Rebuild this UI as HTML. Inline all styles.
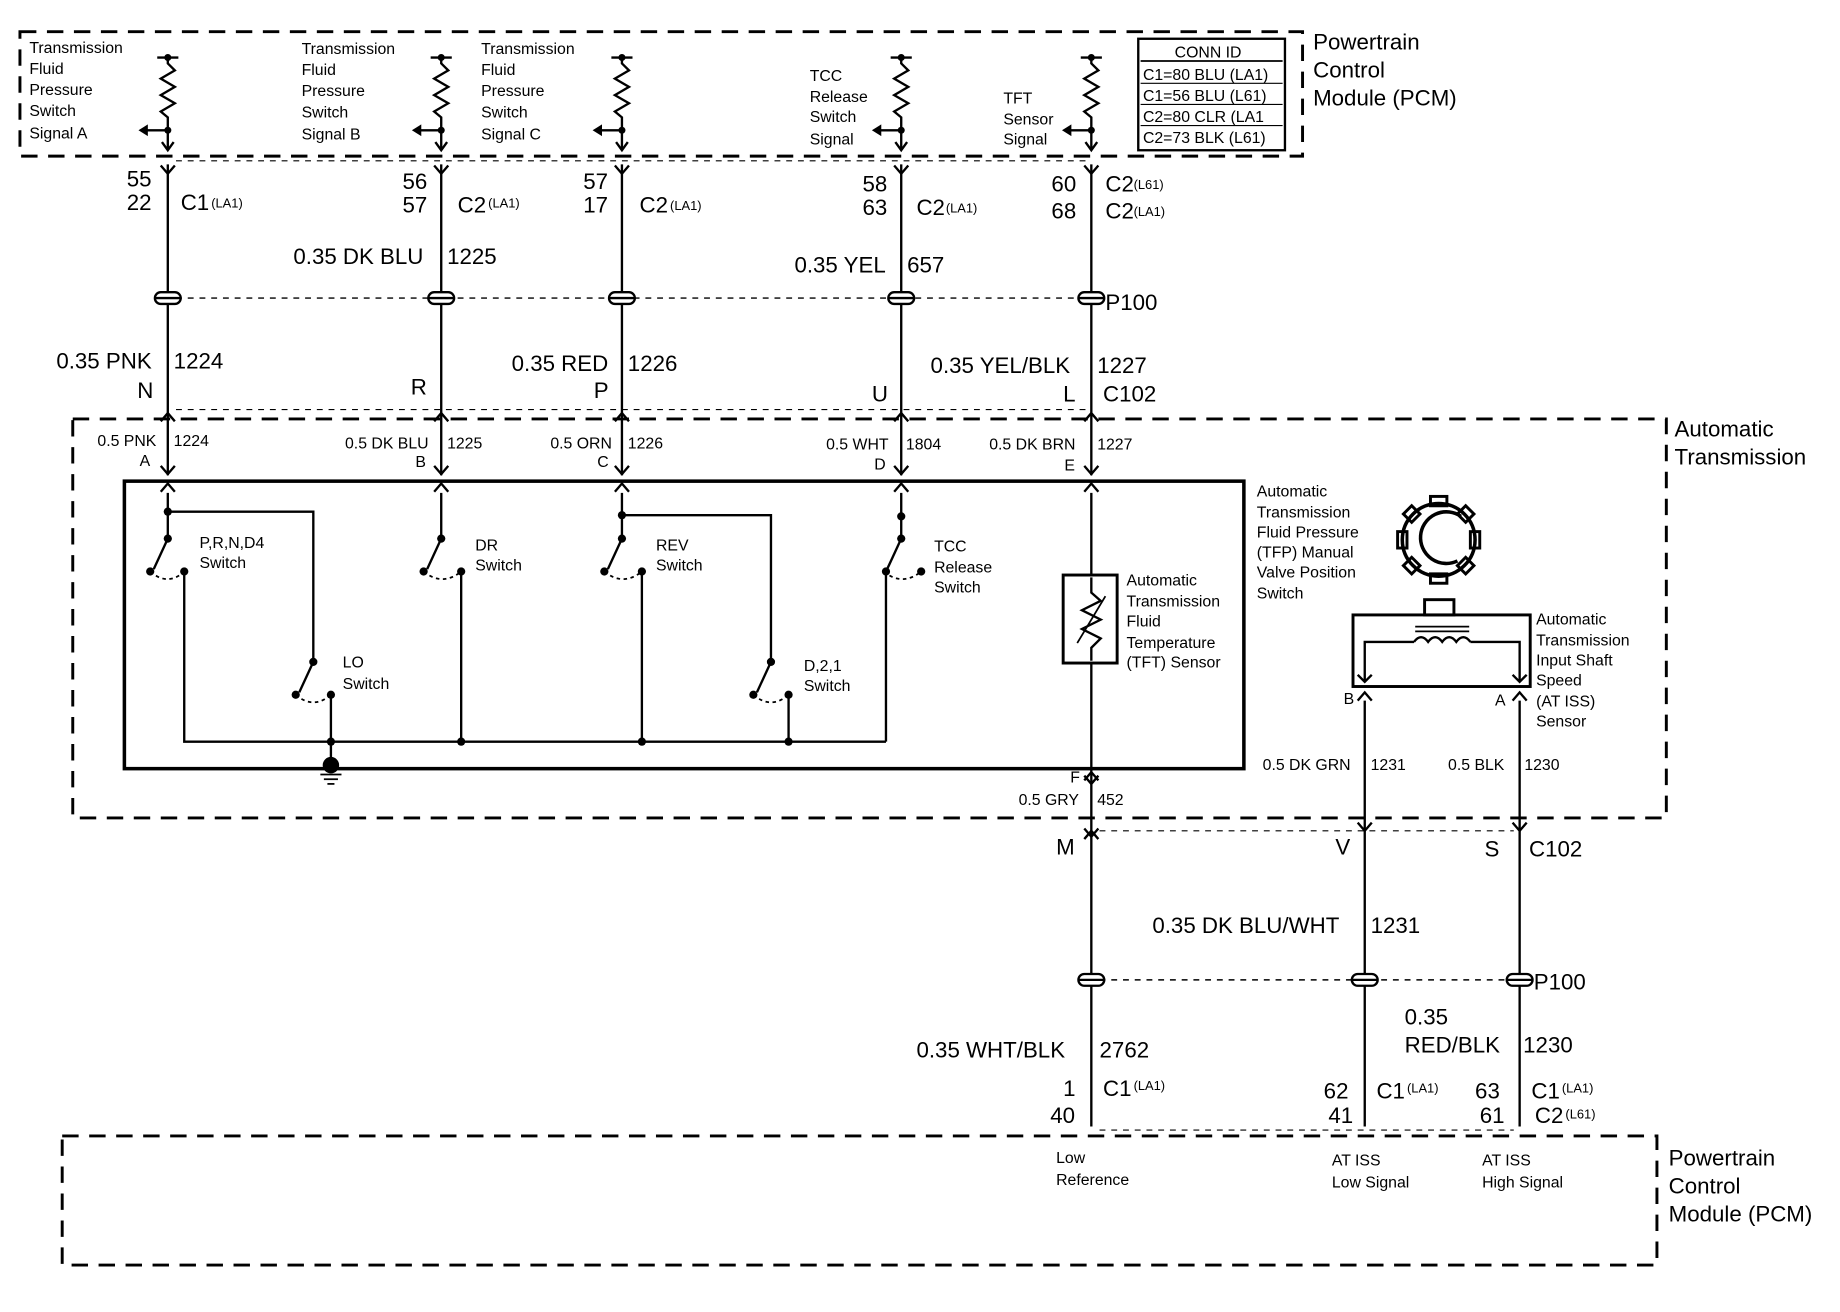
<!DOCTYPE html>
<html><head><meta charset="utf-8"><style>
html,body{margin:0;padding:0;background:#fff}
svg{display:block}
text{font-family:"Liberation Sans",Arial,sans-serif;fill:#000}
.s{font-size:13.5px}
.m{font-size:15px}
.l{font-size:19px}
.x{font-size:11px}
</style></head><body>
<svg width="1840" height="1312" viewBox="0 0 1568 1118" xmlns="http://www.w3.org/2000/svg">
<defs>
<g id="res">
 <line x1="-9" y1="49" x2="9" y2="49" stroke="#000" stroke-width="2"/>
 <circle cx="0" cy="49" r="3"/>
 <polyline points="0,49 0,54 6,60 -6,67 6,74 -6,81 6,88 -6,95 0,100 0,128" fill="none" stroke="#000" stroke-width="2"/>
 <circle cx="0" cy="111" r="3"/>
 <line x1="0" y1="111" x2="-20" y2="111" stroke="#000" stroke-width="2"/>
 <polygon points="-25,111 -17,106 -17,116"/>
 <polyline points="-5,121 0,128 5,121" fill="none" stroke="#000" stroke-width="2"/>
</g>
<g id="yc"><polyline points="-6,-7 0,0 6,-7" fill="none" stroke="#000" stroke-width="2"/></g>
<g id="ac"><polyline points="-6,7 0,0 6,7" fill="none" stroke="#000" stroke-width="2"/></g>
<g id="p1"><rect x="-11" y="-5" width="22" height="10" rx="5" fill="#fff" stroke="#000" stroke-width="2"/><line x1="-11" y1="0" x2="11" y2="0" stroke="#000" stroke-width="2"/></g>
</defs>
<g stroke="#000" fill="none">
<rect x="17" y="27" width="1093" height="106" stroke-width="2.5" stroke-dasharray="14,9"/>
<rect x="970" y="33" width="125" height="95" stroke-width="2"/>
<line x1="972" y1="52" x2="1093" y2="52" stroke-width="1.5"/>
<line x1="972" y1="71" x2="1093" y2="71" stroke-width="1"/>
<line x1="972" y1="89" x2="1093" y2="89" stroke-width="1"/>
<line x1="972" y1="107" x2="1093" y2="107" stroke-width="1"/>
<g stroke-width="2">
<line x1="143" y1="140" x2="143" y2="405"/>
<line x1="376" y1="140" x2="376" y2="405"/>
<line x1="530" y1="140" x2="530" y2="405"/>
<line x1="768" y1="140" x2="768" y2="405"/>
<line x1="930" y1="140" x2="930" y2="405"/>
</g>
<line x1="150" y1="137" x2="925" y2="137" stroke-width="1" stroke-dasharray="5,5"/>
<line x1="150" y1="254" x2="920" y2="254" stroke-width="1.2" stroke-dasharray="5,5"/>
<line x1="150" y1="349" x2="925" y2="349" stroke-width="1" stroke-dasharray="5,5"/>
<rect x="62" y="357" width="1358" height="340" stroke-width="2.5" stroke-dasharray="14,9"/>
<rect x="106" y="410" width="954" height="245" stroke-width="3"/>
<g stroke-width="2">
<polyline points="143,436 267,436 267,564"/>
<line x1="143" y1="420" x2="143" y2="459"/>
<line x1="143" y1="459" x2="131" y2="485"/>
<polyline points="157,487 157,632 755,632"/>
<line x1="267" y1="564" x2="255" y2="590"/>
<line x1="282" y1="592" x2="282" y2="650"/>
<line x1="376" y1="420" x2="376" y2="459"/><line x1="376" y1="459" x2="364" y2="485"/>
<line x1="393" y1="487" x2="393" y2="632"/>
<line x1="530" y1="420" x2="530" y2="459"/><line x1="530" y1="459" x2="518" y2="485"/>
<polyline points="530,439 657,439 657,564"/>
<line x1="657" y1="564" x2="645" y2="590"/>
<line x1="672" y1="592" x2="672" y2="632"/>
<line x1="547" y1="487" x2="547" y2="632"/>
<line x1="768" y1="420" x2="768" y2="459"/><line x1="768" y1="459" x2="756" y2="485"/>
<line x1="755" y1="632" x2="755" y2="487"/>
<line x1="930" y1="420" x2="930" y2="490"/>
<line x1="930" y1="565" x2="930" y2="960"/>
</g>
<g stroke-width="1.5" stroke-dasharray="3,3">
<path d="M128,487 Q143,500 157,487"/><path d="M361,487 Q377,500 393,487"/><path d="M515,487 Q531,500 547,487"/><path d="M753,487 Q769,500 785,487"/>
<path d="M252,592 Q267,605 282,592"/><path d="M642,592 Q657,605 672,592"/>
</g>
<rect x="906" y="490" width="46" height="75" stroke-width="2.5"/>
<polyline points="930,492 930,505 938,512 922,520 938,528 922,536 938,544 930,552 930,563" stroke-width="2"/>
<line x1="918" y1="548" x2="942" y2="508" stroke-width="1.5"/>
<rect x="1153" y="524" width="151" height="61" stroke-width="2.5"/>
<rect x="1214" y="511" width="25" height="13" stroke-width="2.5"/>
<polyline points="1163,580 1163,547 1205,547" stroke-width="2"/>
<path d="M1205,547 q6,-8 12,0 q6,-8 12,0 q6,-8 12,0 q6,-8 12,0" stroke-width="2"/>
<polyline points="1253,547 1295,547 1295,580" stroke-width="2"/>
<line x1="1206" y1="538" x2="1252" y2="538" stroke-width="1.5"/><line x1="1206" y1="534" x2="1252" y2="534" stroke-width="1.5"/>
<circle cx="1226" cy="460" r="31" stroke-width="3"/>
<path d="M1245,440 A22,22 0 1 0 1242,478" stroke-width="3"/>
<g stroke-width="2.5">
<rect x="1219" y="423" width="14" height="8"/><rect x="1219" y="489" width="14" height="8"/>
<rect x="1191" y="453" width="8" height="14"/><rect x="1253" y="453" width="8" height="14"/>
<rect x="1198" y="433" width="10" height="10" transform="rotate(45 1203 438)"/>
<rect x="1244" y="433" width="10" height="10" transform="rotate(45 1249 438)"/>
<rect x="1198" y="477" width="10" height="10" transform="rotate(45 1203 482)"/>
<rect x="1244" y="477" width="10" height="10" transform="rotate(45 1249 482)"/>
</g>
<g stroke-width="2">
<line x1="1163" y1="597" x2="1163" y2="960"/>
<line x1="1295" y1="597" x2="1295" y2="960"/>
</g>
<line x1="937" y1="708" x2="1290" y2="708" stroke-width="1" stroke-dasharray="5,5"/>
<line x1="937" y1="835" x2="1285" y2="835" stroke-width="1.2" stroke-dasharray="5,5"/>
<line x1="937" y1="963" x2="1290" y2="963" stroke-width="1" stroke-dasharray="5,5"/>
<rect x="53" y="968" width="1359" height="110" stroke-width="2.5" stroke-dasharray="14,9"/>
</g>
<circle cx="282" cy="652" r="7"/>
<g stroke="#000" stroke-width="1.5"><line x1="273" y1="660" x2="291" y2="660"/><line x1="276" y1="664" x2="288" y2="664"/><line x1="279" y1="668" x2="285" y2="668"/></g>
<g>
<circle cx="143" cy="436" r="3.5"/><circle cx="143" cy="459" r="3.5"/><circle cx="128" cy="487" r="3.5"/><circle cx="157" cy="487" r="3.5"/>
<circle cx="267" cy="564" r="3.5"/><circle cx="252" cy="592" r="3.5"/><circle cx="282" cy="592" r="3.5"/><circle cx="282" cy="632" r="3.5"/>
<circle cx="376" cy="459" r="3.5"/><circle cx="361" cy="487" r="3.5"/><circle cx="393" cy="487" r="3.5"/><circle cx="393" cy="632" r="3.5"/>
<circle cx="530" cy="439" r="3.5"/><circle cx="530" cy="459" r="3.5"/><circle cx="515" cy="487" r="3.5"/><circle cx="547" cy="487" r="3.5"/><circle cx="547" cy="632" r="3.5"/>
<circle cx="657" cy="564" r="3.5"/><circle cx="642" cy="592" r="3.5"/><circle cx="672" cy="592" r="3.5"/><circle cx="672" cy="632" r="3.5"/>
<circle cx="768" cy="440" r="3.5"/><circle cx="768" cy="459" r="3.5"/><circle cx="785" cy="487" r="3.5"/><circle cx="755" cy="487" r="3.5"/>
</g>
<use href="#res" x="143"/><use href="#res" x="376"/><use href="#res" x="530"/><use href="#res" x="768"/><use href="#res" x="930"/>
<use href="#yc" x="143" y="148"/><use href="#yc" x="376" y="148"/><use href="#yc" x="530" y="148"/><use href="#yc" x="768" y="148"/><use href="#yc" x="930" y="148"/>
<use href="#p1" x="143" y="254"/><use href="#p1" x="376" y="254"/><use href="#p1" x="530" y="254"/><use href="#p1" x="768" y="254"/><use href="#p1" x="930" y="254"/>
<use href="#ac" x="143" y="352"/><use href="#ac" x="376" y="352"/><use href="#ac" x="530" y="352"/><use href="#ac" x="768" y="352"/><use href="#ac" x="930" y="352"/>
<use href="#yc" x="143" y="404"/><use href="#yc" x="376" y="404"/><use href="#yc" x="530" y="404"/><use href="#yc" x="768" y="404"/><use href="#yc" x="930" y="404"/>
<use href="#ac" x="143" y="412"/><use href="#ac" x="376" y="412"/><use href="#ac" x="530" y="412"/><use href="#ac" x="768" y="412"/><use href="#ac" x="930" y="412"/>
<use href="#ac" x="930" y="658"/><use href="#yc" x="930" y="668"/>
<use href="#ac" x="1163" y="590"/><use href="#ac" x="1295" y="590"/>
<g fill="none" stroke="#000" stroke-width="2"><polyline points="1157,575 1163,581 1169,575"/><polyline points="1289,575 1295,581 1301,575"/></g>
<use href="#yc" x="1163" y="708"/><use href="#yc" x="1295" y="708"/><use href="#ac" x="930" y="708"/><use href="#yc" x="930" y="713"/>
<use href="#p1" x="930" y="835"/><use href="#p1" x="1163" y="835"/><use href="#p1" x="1295" y="835"/>
<g class="s">
<text x="25" y="45">Transmission</text><text x="25" y="63">Fluid</text><text x="25" y="81">Pressure</text><text x="25" y="99">Switch</text><text x="25" y="118">Signal A</text>
<text x="257" y="46">Transmission</text><text x="257" y="64">Fluid</text><text x="257" y="82">Pressure</text><text x="257" y="100">Switch</text><text x="257" y="119">Signal B</text>
<text x="410" y="46">Transmission</text><text x="410" y="64">Fluid</text><text x="410" y="82">Pressure</text><text x="410" y="100">Switch</text><text x="410" y="119">Signal C</text>
<text x="690" y="69">TCC</text><text x="690" y="87">Release</text><text x="690" y="104">Switch</text><text x="690" y="123">Signal</text>
<text x="855" y="88">TFT</text><text x="855" y="106">Sensor</text><text x="855" y="123">Signal</text>
<text x="1001" y="49">CONN ID</text>
<text x="974" y="68">C1=80 BLU (LA1)</text><text x="974" y="86">C1=56 BLU (L61)</text><text x="974" y="104">C2=80 CLR (LA1</text><text x="974" y="122">C2=73 BLK (L61)</text>
</g>
<g class="l">
<text x="1119" y="42">Powertrain</text><text x="1119" y="66">Control</text><text x="1119" y="90">Module (PCM)</text>
<text x="108" y="159">55</text><text x="108" y="179">22</text><text x="154" y="179">C1</text>
<text x="343" y="161">56</text><text x="343" y="181">57</text><text x="390" y="181">C2</text>
<text x="497" y="161">57</text><text x="497" y="181">17</text><text x="545" y="181">C2</text>
<text x="735" y="163">58</text><text x="735" y="183">63</text><text x="781" y="183">C2</text>
<text x="896" y="163">60</text><text x="896" y="186">68</text><text x="942" y="163">C2</text><text x="942" y="186">C2</text>
<text x="250" y="225">0.35 DK BLU</text><text x="381" y="225">1225</text>
<text x="677" y="232">0.35 YEL</text><text x="773" y="232">657</text>
<text x="942" y="264">P100</text>
<text x="48" y="314">0.35 PNK</text><text x="148" y="314">1224</text>
<text x="436" y="316">0.35 RED</text><text x="535" y="316">1226</text>
<text x="793" y="318">0.35 YEL/BLK</text><text x="935" y="318">1227</text>
<text x="117" y="339">N</text><text x="350" y="336">R</text><text x="506" y="339">P</text><text x="743" y="342">U</text><text x="906" y="342">L</text><text x="940" y="342">C102</text>
<text x="1427" y="372">Automatic</text><text x="1427" y="396">Transmission</text>
<text x="900" y="728">M</text><text x="1138" y="728">V</text><text x="1265" y="730">S</text><text x="1303" y="730">C102</text>
<text x="982" y="795">0.35 DK BLU/WHT</text><text x="1168" y="795">1231</text>
<text x="1307" y="843">P100</text>
<text x="1197" y="873">0.35</text><text x="1197" y="897">RED/BLK</text><text x="1298" y="897">1230</text>
<text x="781" y="901">0.35 WHT/BLK</text><text x="937" y="901">2762</text>
<text x="906" y="934">1</text><text x="895" y="957">40</text><text x="940" y="934">C1</text>
<text x="1128" y="936">62</text><text x="1132" y="957">41</text><text x="1173" y="936">C1</text>
<text x="1257" y="936">63</text><text x="1261" y="957">61</text><text x="1305" y="936">C1</text><text x="1308" y="957">C2</text>
<text x="1422" y="993">Powertrain</text><text x="1422" y="1017">Control</text><text x="1422" y="1041">Module (PCM)</text>
</g>
<g class="x">
<text x="180" y="177">(LA1)</text><text x="416" y="177">(LA1)</text><text x="571" y="179">(LA1)</text><text x="806" y="181">(LA1)</text><text x="966" y="161">(L61)</text><text x="966" y="184">(LA1)</text>
<text x="966" y="929">(LA1)</text><text x="1199" y="931">(LA1)</text><text x="1331" y="931">(LA1)</text><text x="1334" y="953">(L61)</text>
</g>
<g class="s">
<text x="83" y="380">0.5 PNK</text><text x="148" y="380">1224</text><text x="119" y="397">A</text>
<text x="294" y="382">0.5 DK BLU</text><text x="381" y="382">1225</text><text x="354" y="398">B</text>
<text x="469" y="382">0.5 ORN</text><text x="535" y="382">1226</text><text x="509" y="398">C</text>
<text x="704" y="383">0.5 WHT</text><text x="772" y="383">1804</text><text x="745" y="400">D</text>
<text x="843" y="383">0.5 DK BRN</text><text x="935" y="383">1227</text><text x="907" y="401">E</text>
<text x="170" y="467">P,R,N,D4</text><text x="170" y="484">Switch</text>
<text x="292" y="569">LO</text><text x="292" y="587">Switch</text>
<text x="405" y="469">DR</text><text x="405" y="486">Switch</text>
<text x="559" y="469">REV</text><text x="559" y="486">Switch</text>
<text x="685" y="572">D,2,1</text><text x="685" y="589">Switch</text>
<text x="796" y="470">TCC</text><text x="796" y="488">Release</text><text x="796" y="505">Switch</text>
<text x="960" y="499">Automatic</text><text x="960" y="517">Transmission</text><text x="960" y="534">Fluid</text><text x="960" y="552">Temperature</text><text x="960" y="569">(TFT) Sensor</text>
<text x="1071" y="423">Automatic</text><text x="1071" y="441">Transmission</text><text x="1071" y="458">Fluid Pressure</text><text x="1071" y="475">(TFP) Manual</text><text x="1071" y="492">Valve Position</text><text x="1071" y="510">Switch</text>
<text x="1309" y="532">Automatic</text><text x="1309" y="550">Transmission</text><text x="1309" y="567">Input Shaft</text><text x="1309" y="584">Speed</text><text x="1309" y="602">(AT ISS)</text><text x="1309" y="619">Sensor</text>
<text x="1145" y="600">B</text><text x="1274" y="601">A</text>
<text x="912" y="667">F</text><text x="868" y="686">0.5 GRY</text><text x="935" y="686">452</text>
<text x="1076" y="656">0.5 DK GRN</text><text x="1168" y="656">1231</text>
<text x="1234" y="656">0.5 BLK</text><text x="1299" y="656">1230</text>
<text x="900" y="991">Low</text><text x="900" y="1010">Reference</text>
<text x="1135" y="993">AT ISS</text><text x="1135" y="1012">Low Signal</text>
<text x="1263" y="993">AT ISS</text><text x="1263" y="1012">High Signal</text>
</g>
</svg>
</body></html>
